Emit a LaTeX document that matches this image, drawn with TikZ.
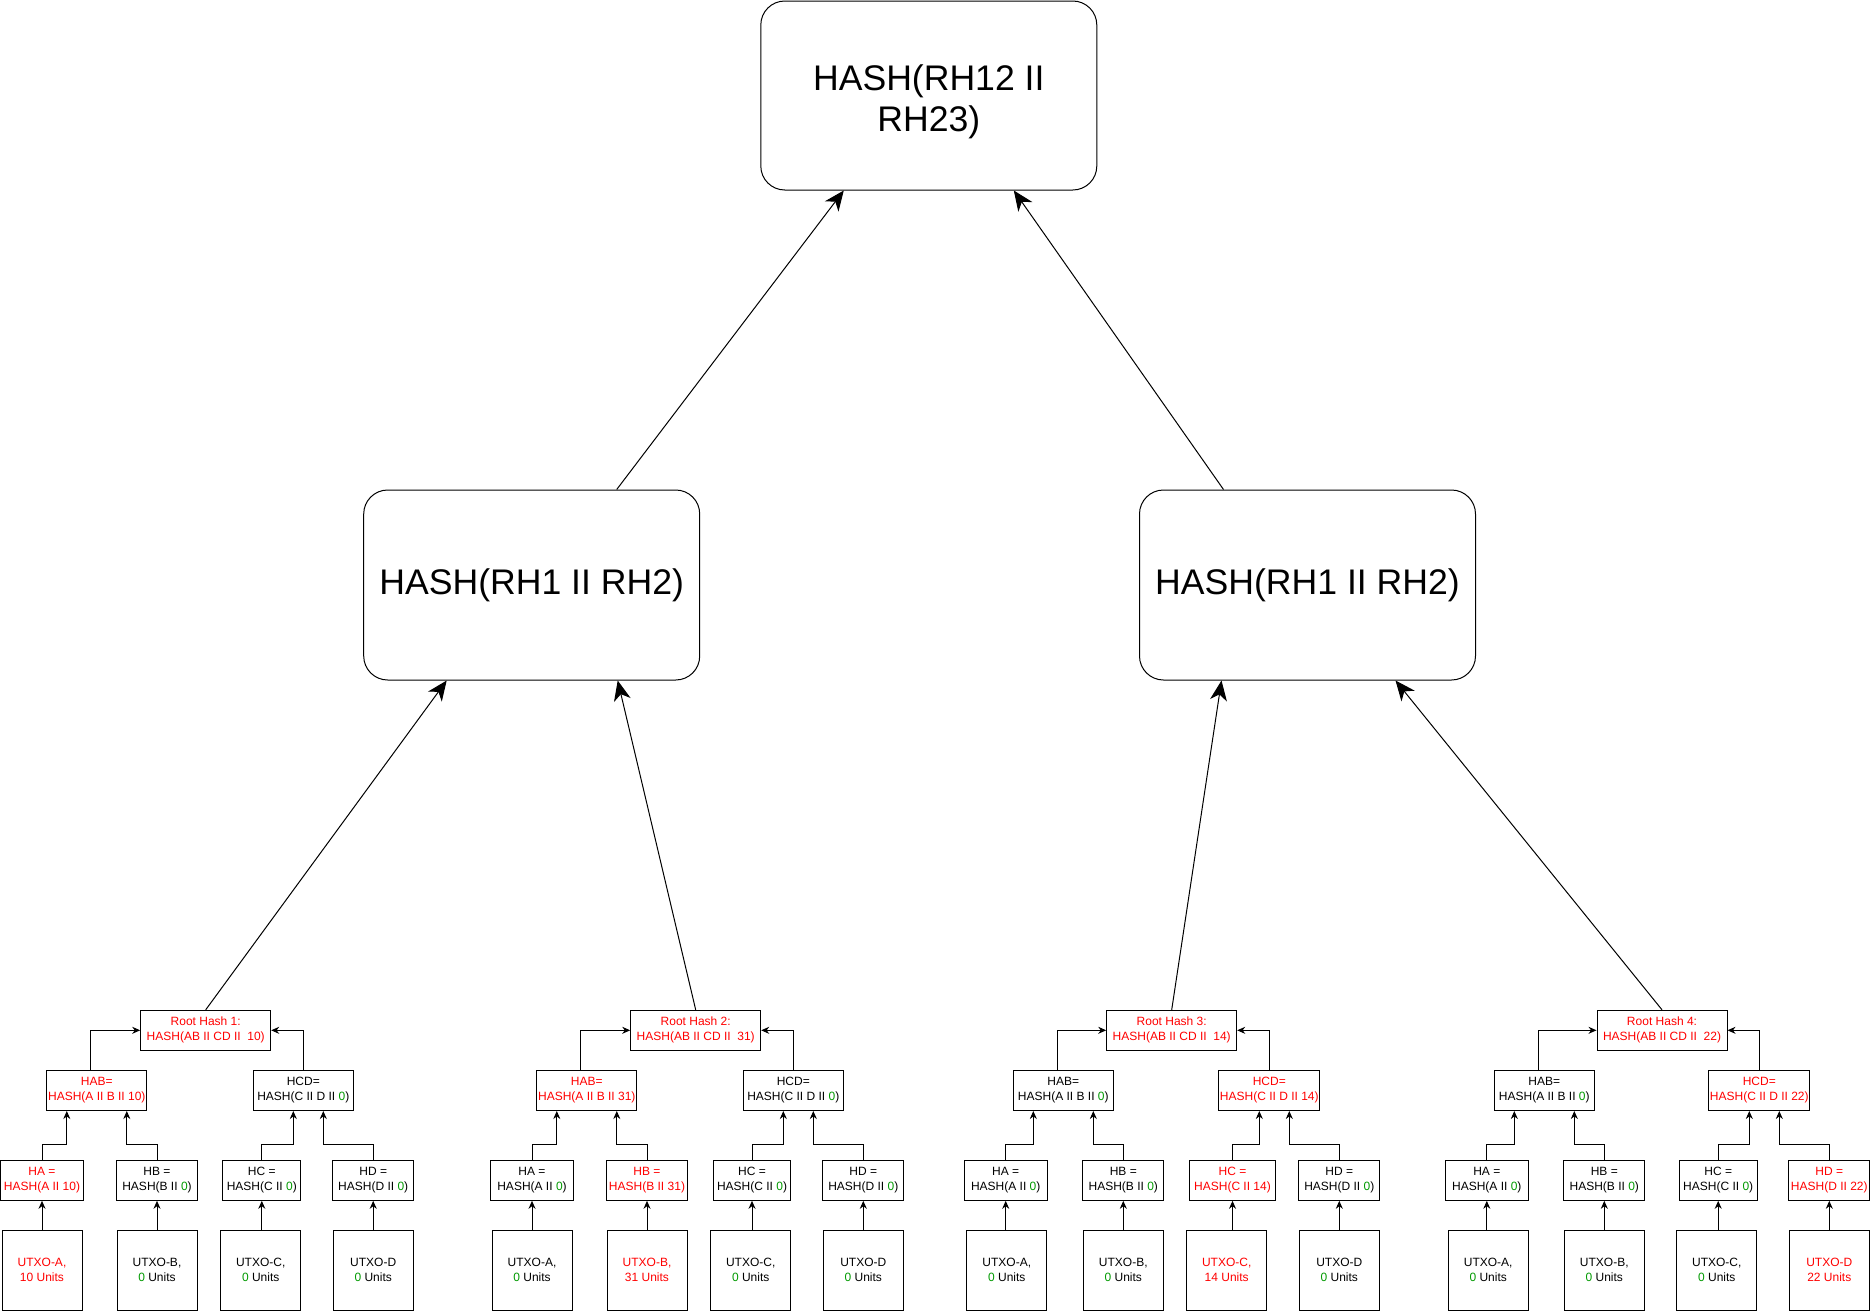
\documentclass[tikz,border=0pt]{standalone}
\usepackage{fontspec}
\setmainfont{Liberation Sans}
\usetikzlibrary{arrows.meta,calc,positioning}
\definecolor{hred}{RGB}{255,0,0}
\definecolor{hgreen}{RGB}{0,153,0}
\newcommand{\zr}{\textcolor{hgreen}{0}}

\tikzset{
  bigbox/.style={draw, rounded corners=12pt, minimum width=168pt, minimum height=95pt,
    align=center, font=\fontsize{17.8}{20.5}\selectfont},
  hbox/.style={draw, minimum width=#1, minimum height=20pt, inner sep=0.5pt,
    align=center, font=\fontsize{6}{7.5}\selectfont},
  hbox/.default=40.5pt,
  ubox/.style={draw, minimum width=40pt, minimum height=40pt, inner sep=0.5pt,
    align=center, font=\fontsize{6}{7.5}\selectfont},
  bigarrow/.style={-{Stealth[length=10pt,width=8.5pt,inset=3pt]}},
  smallarrow/.style={-{Stealth[length=4pt,width=3.5pt,inset=1.3pt]}},
}

\begin{document}
\begin{tikzpicture}[x=0.5pt, y=-0.5pt, line width=0.5pt]
  \useasboundingbox (0,0) rectangle (1870,1312);

  % upper levels
  \node[bigbox, minimum height=94.5pt] (top) at (928.8,95.5) {\rule{0pt}{19pt}HASH(RH12 II\\RH23)};
  \node[bigbox] (left) at (531.7,585) {HASH(RH1 II RH2)};
  \node[bigbox] (right) at (1307.5,585) {HASH(RH1 II RH2)};

  % group 1
  \node[hbox=65pt, text=hred] (rh1) at (205.7,1030.3) {Root Hash 1:\\HASH(AB II CD II~ 10)};
  \node[hbox=50pt, text=hred] (hab1) at (96.8,1090.5) {HAB=\\HASH(A II B II 10)};
  \node[hbox=50pt] (hcd1) at (303.3,1090.5) {HCD=\\HASH(C II D II \zr)};
  \node[hbox=41.3pt, text=hred] (ha1) at (42,1180.3) {HA =\\HASH(A II 10)};
  \node[hbox] (hb1) at (157,1180.3) {HB =\\HASH(B II \zr)};
  \node[hbox=38.9pt] (hc1) at (261.8,1180.3) {HC =\\HASH(C II \zr)};
  \node[hbox] (hd1) at (373.2,1180.3) {HD =\\HASH(D II \zr)};
  \node[ubox, text=hred] (ua1) at (42,1270) {UTXO-A,\\10 Units};
  \node[ubox] (ub1) at (157,1270) {UTXO-B,\\\zr{} Units};
  \node[ubox] (uc1) at (260.7,1270) {UTXO-C,\\\zr{} Units};
  \node[ubox] (ud1) at (373.2,1270) {UTXO-D\\\zr{} Units};

  % group 2
  \node[hbox=65pt, text=hred] (rh2) at (695.7,1030.3) {Root Hash 2:\\HASH(AB II CD II~ 31)};
  \node[hbox=50pt, text=hred] (hab2) at (586.8,1090.5) {HAB=\\HASH(A II B II 31)};
  \node[hbox=50pt] (hcd2) at (793.3,1090.5) {HCD=\\HASH(C II D II \zr)};
  \node[hbox=41.3pt] (ha2) at (532,1180.3) {HA =\\HASH(A II \zr)};
  \node[hbox, text=hred] (hb2) at (647,1180.3) {HB =\\HASH(B II 31)};
  \node[hbox=38.9pt] (hc2) at (752,1180.3) {HC =\\HASH(C II \zr)};
  \node[hbox] (hd2) at (863.3,1180.3) {HD =\\HASH(D II \zr)};
  \node[ubox] (ua2) at (532,1270) {UTXO-A,\\\zr{} Units};
  \node[ubox, text=hred] (ub2) at (647,1270) {UTXO-B,\\31 Units};
  \node[ubox] (uc2) at (750.7,1270) {UTXO-C,\\\zr{} Units};
  \node[ubox] (ud2) at (863.3,1270) {UTXO-D\\\zr{} Units};

  % group 3
  \node[hbox=65pt, text=hred] (rh3) at (1171.7,1030.3) {Root Hash 3:\\HASH(AB II CD II~ 14)};
  \node[hbox=50pt] (hab3) at (1063.3,1090.5) {HAB=\\HASH(A II B II \zr)};
  \node[hbox=50pt, text=hred] (hcd3) at (1269.3,1090.5) {HCD=\\HASH(C II D II 14)};
  \node[hbox=41.3pt] (ha3) at (1005.7,1180.3) {HA =\\HASH(A II \zr)};
  \node[hbox] (hb3) at (1123.3,1180.3) {HB =\\HASH(B II \zr)};
  \node[hbox=43.2pt, text=hred] (hc3) at (1232.5,1180.3) {HC =\\HASH(C II 14)};
  \node[hbox] (hd3) at (1339.3,1180.3) {HD =\\HASH(D II \zr)};
  \node[ubox] (ua3) at (1006.8,1270) {UTXO-A,\\\zr{} Units};
  \node[ubox] (ub3) at (1123.3,1270) {UTXO-B,\\\zr{} Units};
  \node[ubox, text=hred] (uc3) at (1226.7,1270) {UTXO-C,\\14 Units};
  \node[ubox] (ud3) at (1339.3,1270) {UTXO-D\\\zr{} Units};

  % group 4
  \node[hbox=65pt, text=hred] (rh4) at (1662,1030.3) {Root Hash 4:\\HASH(AB II CD II~ 22)};
  \node[hbox=50pt] (hab4) at (1544.3,1090.5) {HAB=\\HASH(A II B II \zr)};
  \node[hbox=50pt, text=hred] (hcd4) at (1759.3,1090.5) {HCD=\\HASH(C II D II 22)};
  \node[hbox=41.5pt] (ha4) at (1486.8,1180.3) {HA =\\HASH(A II \zr)};
  \node[hbox] (hb4) at (1604.3,1180.3) {HB =\\HASH(B II \zr)};
  \node[hbox=38.9pt] (hc4) at (1718.2,1180.3) {HC =\\HASH(C II \zr)};
  \node[hbox, text=hred] (hd4) at (1829.3,1180.3) {HD =\\HASH(D II 22)};
  \node[ubox] (ua4) at (1488.2,1270) {UTXO-A,\\\zr{} Units};
  \node[ubox] (ub4) at (1604.3,1270) {UTXO-B,\\\zr{} Units};
  \node[ubox] (uc4) at (1716.8,1270) {UTXO-C,\\\zr{} Units};
  \node[ubox, text=hred] (ud4) at (1829.3,1270) {UTXO-D\\22 Units};

  % edges inside each group
  \foreach \g in {1,...,4} {
    \draw[smallarrow] (ua\g.north -| ha\g) -- (ha\g.south);
    \draw[smallarrow] (ub\g.north -| hb\g) -- (hb\g.south);
    \draw[smallarrow] (uc\g.north -| hc\g) -- (hc\g.south);
    \draw[smallarrow] (ud\g.north -| hd\g) -- (hd\g.south);
    \draw[smallarrow] (ha\g.north) -- ++(0,-15) -| ([xshift=-15pt]hab\g.south);
    \draw[smallarrow] (hb\g.north) -- ++(0,-15) -| ([xshift=15pt]hab\g.south);
    \draw[smallarrow] (hc\g.north) -- ++(0,-15) -| ([xshift=-5pt]hcd\g.south);
    \draw[smallarrow] (hd\g.north) -- ++(0,-15) -| ([xshift=10pt]hcd\g.south);
    \draw[smallarrow] ([xshift=-3pt]hab\g.north) |- (rh\g.west);
    \draw[smallarrow] (hcd\g.north) |- (rh\g.east);
  }

  % root hashes up to the big boxes
  \draw[bigarrow] (rh1.north) -- ([xshift=-42.5pt]left.south);
  \draw[bigarrow] (rh2.north) -- ([xshift=43pt]left.south);
  \draw[bigarrow] (rh3.north) -- ([xshift=-43pt]right.south);
  \draw[bigarrow] (rh4.north) -- ([xshift=44pt]right.south);
  \draw[bigarrow] ([xshift=42.5pt]left.north) -- ([xshift=-42.5pt]top.south);
  \draw[bigarrow] ([xshift=-42pt]right.north) -- ([xshift=42.5pt]top.south);
\end{tikzpicture}
\end{document}
